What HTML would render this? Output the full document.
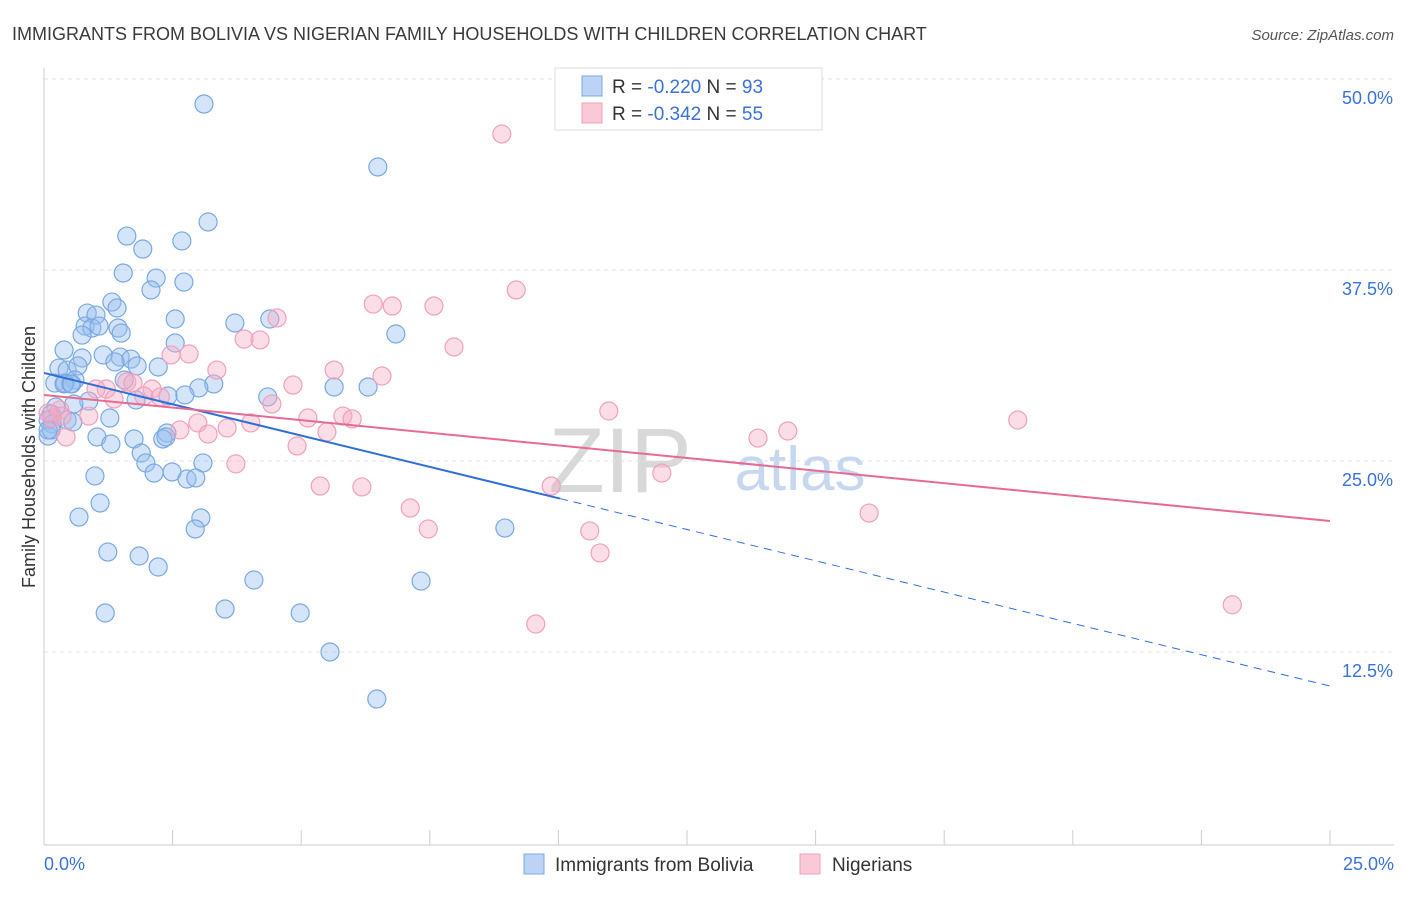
<!DOCTYPE html>
<html><head><meta charset="utf-8"><style>
body{margin:0;background:#fff;font-family:"Liberation Sans",sans-serif;}
svg text{font-family:"Liberation Sans",sans-serif;}
</style></head><body>
<svg id="c" width="1406" height="892" xmlns="http://www.w3.org/2000/svg">
<text x="12" y="40" font-size="18" fill="#3a3a3a">IMMIGRANTS FROM BOLIVIA VS NIGERIAN FAMILY HOUSEHOLDS WITH CHILDREN CORRELATION CHART</text>
<text x="1394" y="40" font-size="15" fill="#555" text-anchor="end" font-style="italic">Source: ZipAtlas.com</text>
<text x="620" y="492" font-size="92" fill="#d8d8d8" font-family="Liberation Serif" text-anchor="middle">ZIP</text>
<text x="800" y="490" font-size="62" fill="#c5d8f0" text-anchor="middle">atlas</text>
<g id="grid"></g>
<g id="axes"></g>
<g id="marks"></g>
<text x="35" y="457" font-size="18" fill="#333" text-anchor="middle" transform="rotate(-90 35 457)">Family Households with Children</text>
<g>
<rect x="555" y="68" width="267" height="62" fill="#fff" stroke="#ddd"/>
<rect x="582" y="76" width="20" height="20" fill="#bcd3f5" stroke="#7aa8e0"/>
<text x="612" y="93" font-size="19" fill="#333">R = <tspan fill="#3a72d8">-0.220</tspan>   N = <tspan fill="#3a72d8">93</tspan></text>
<rect x="582" y="103" width="20" height="20" fill="#f9c9d8" stroke="#f0a0bc"/>
<text x="612" y="120" font-size="19" fill="#333">R = <tspan fill="#3a72d8">-0.342</tspan>   N = <tspan fill="#3a72d8">55</tspan></text>
</g>
<g>
<rect x="524" y="854" width="20" height="20" fill="#bcd3f5" stroke="#7aa8e0"/>
<text x="555" y="871" font-size="19" fill="#333">Immigrants from Bolivia</text>
<rect x="800" y="854" width="20" height="20" fill="#f9c9d8" stroke="#f0a0bc"/>
<text x="832" y="871" font-size="19" fill="#333">Nigerians</text>
</g>
</svg>
<script>
const yTicks=[50,37.5,25,12.5];
const yTickLabels=["50.0%","37.5%","25.0%","12.5%"];
const xTickLabels=["0.0%","25.0%"];
const blueX=[3.11,6.49,3.19,1.61,2.68,1.92,1.54,2.18,2.72,2.08,1.32,1.42,0.84,1.01,2.55,3.71,4.39,0.80,0.93,1.07,1.44,1.50,0.74,6.84,2.55,0.39,0.74,1.15,1.48,1.69,1.81,2.22,1.38,0.29,0.45,0.66,0.60,0.21,0.41,0.52,1.56,3.30,3.01,5.64,6.30,2.41,2.74,4.35,1.79,0.87,0.23,0.58,0.14,0.08,1.28,0.45,0.56,0.16,0.08,1.03,1.75,2.39,1.30,1.89,1.98,2.14,2.49,3.09,0.99,2.78,2.95,1.09,0.68,3.05,2.94,8.96,1.24,1.85,2.22,4.08,7.33,3.52,1.19,4.98,5.56,6.47,2.31,2.37,0.14,0.39,0.54,0.08];
const blueY=[49.54,45.42,41.82,40.90,40.58,40.05,38.48,38.15,37.89,37.37,36.58,36.19,35.86,35.73,35.47,35.21,35.47,35.01,34.88,35.01,34.88,34.55,34.42,34.49,33.90,33.44,32.92,33.12,32.98,32.85,32.40,32.33,32.66,32.26,32.13,32.40,31.48,31.28,31.28,31.22,31.48,31.22,30.96,31.02,31.02,30.43,30.50,30.37,30.17,30.10,29.71,29.91,29.25,28.86,28.99,28.86,28.73,28.60,27.81,27.75,27.62,28.01,27.29,26.70,26.05,25.39,25.46,26.05,25.20,25.00,25.07,23.43,22.51,22.45,21.73,21.79,20.22,19.96,19.24,18.39,18.32,16.49,16.23,16.23,13.68,10.60,27.62,27.75,28.21,31.22,31.22,28.21];
const pinkX=[8.90,9.18,6.40,6.77,7.58,4.53,3.89,4.20,7.97,2.82,2.47,5.64,6.57,3.36,4.84,1.61,1.21,1.01,2.10,1.73,1.94,2.26,1.36,4.43,10.98,0.31,0.35,0.87,5.13,5.81,5.99,2.99,4.02,3.56,18.93,2.64,3.19,5.50,14.46,13.88,4.92,0.43,3.73,12.01,5.37,6.18,9.86,7.12,16.04,7.47,10.61,10.81,9.56,23.10,0.16,0.08];
const pinkY=[47.58,37.37,36.45,36.32,36.32,35.54,34.16,34.10,33.64,33.18,33.12,32.13,31.74,32.13,31.15,31.35,30.89,30.89,30.89,31.28,30.43,30.37,30.24,29.91,29.45,29.52,29.12,29.12,28.99,29.12,28.93,28.67,28.67,28.34,28.86,28.21,27.94,28.08,28.14,27.68,27.16,27.75,25.99,25.39,24.54,24.48,24.54,23.10,22.77,21.73,21.60,20.16,15.51,16.77,28.99,29.32];
const blueTrend=[31.94,11.45];
const blueSolidEnd=10.03;
const pinkTrend=[30.50,22.25];

const NS="http://www.w3.org/2000/svg";
const X=v=>44+v*51.44, Y=v=>97+(50-v)*15.28;
function mk(tag,attrs,parent){const e=document.createElementNS(NS,tag);for(const k in attrs)e.setAttribute(k,attrs[k]);document.getElementById(parent).appendChild(e);return e;}
yTicks.forEach((t,i)=>{
  const g=mk('line',{x1:44,x2:1394,y1:Y(t)-18,y2:Y(t)-18,stroke:'#e2e2e2','stroke-dasharray':'4,4'},'grid');
  
  
  const l=mk('text',{x:1393,y:Y(t)+7,'font-size':18,fill:'#3a72d8','text-anchor':'end'},'axes');
  l.textContent=yTickLabels[i];
  
  
});
const ax=mk('line',{x1:44,x2:44,y1:68,y2:845,stroke:'#ccc'},'axes');


const bx=mk('line',{x1:44,x2:1394,y1:845,y2:845,stroke:'#ccc'},'axes');


for(let i=0;i<=10;i++){
  const t=mk('line',{x1:X(i*2.5),x2:X(i*2.5),y1:830,y2:845,stroke:'#ccc'},'axes');
  
  
}
[[0,'start',44],[1,'end',1394]].forEach(([i,a,x])=>{
  const l=mk('text',{x:x,y:870,'font-size':18,fill:'#3a72d8','text-anchor':a},'axes');
  l.textContent=xTickLabels[i];
  
  
});
blueX.forEach((x,i)=>{
  const c=mk('circle',{cx:X(x),cy:Y(blueY[i]),r:9,fill:'rgba(150,190,240,0.4)',stroke:'#7aa8e0','stroke-width':1.2},'marks');
  
  
});
pinkX.forEach((x,i)=>{
  const c=mk('circle',{cx:X(x),cy:Y(pinkY[i]),r:9,fill:'rgba(245,170,195,0.4)',stroke:'#f0a0bc','stroke-width':1.2},'marks');
  
  
});
const bs=(blueTrend[1]-blueTrend[0])/25;
const t1=mk('line',{x1:X(0),y1:Y(blueTrend[0]),x2:X(blueSolidEnd),y2:Y(blueTrend[0]+bs*blueSolidEnd),stroke:'#2f6fd6','stroke-width':2},'marks');


const t2=mk('line',{x1:X(blueSolidEnd),y1:Y(blueTrend[0]+bs*blueSolidEnd),x2:X(25),y2:Y(blueTrend[1]),stroke:'#2f6fd6','stroke-width':1,'stroke-dasharray':'8,6'},'marks');


const t3=mk('line',{x1:X(0),y1:Y(pinkTrend[0]),x2:X(25),y2:Y(pinkTrend[1]),stroke:'#e76a95','stroke-width':2},'marks');


</script>
</body></html>
